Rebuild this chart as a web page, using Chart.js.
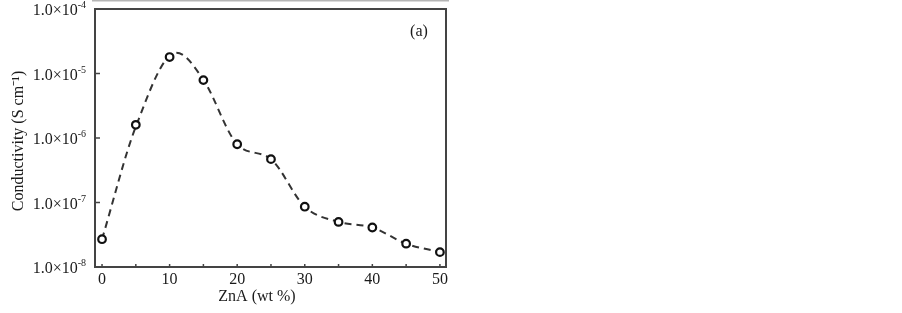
<!DOCTYPE html>
<html lang="en">
<head>
<meta charset="UTF-8">
<title>Conductivity vs ZnA</title>
<script src="https://cdn.jsdelivr.net/npm/chart.js"></script>
<style>
  html, body { margin: 0; padding: 0; background: #fff; }
  #wrap { width: 902px; height: 313px; position: relative; }
</style>
</head>
<body>
<div id="wrap"><canvas id="myChart"></canvas></div>
<script>
// measured points
const zna = [0, 5, 10, 15, 20, 25, 30, 35, 40, 45, 50];
const conductivity = [2.7e-8, 1.6e-6, 1.8e-5, 7.9e-6, 8.0e-7, 4.7e-7, 8.6e-8, 5.0e-8, 4.1e-8, 2.3e-8, 1.7e-8];
// dashed guide curve
const fitX = [0, 5, 11, 15, 20, 25, 30, 35, 40, 45, 50];
const fitY = [2.7e-8, 1.5e-6, 2.1e-5, 8.0e-6, 8.0e-7, 4.7e-7, 8.6e-8, 5.0e-8, 4.1e-8, 2.3e-8, 1.7e-8];
// axis ticks
const yTickExp = [-8, -7, -6, -5, -4];
const xTickLabels = [0, 10, 20, 30, 40, 50];
const xMinorTicks = [0, 5, 10, 15, 20, 25, 30, 35, 40, 45, 50];

const serif = '"Liberation Serif", "Times New Roman", serif';

const framePlugin = {
    id: 'frame',
    afterDraw(chart) {
        const ctx = chart.ctx;
        const a = chart.chartArea;
        const xs = chart.scales.x, ys = chart.scales.y;
        ctx.save();
        // faint line above the plot
        ctx.fillStyle = '#b5b5b5';
        ctx.fillRect(92, 0, 357, 1.5);
        // frame
        ctx.strokeStyle = '#444';
        ctx.lineWidth = 2;
        ctx.strokeRect(a.left, a.top, a.right - a.left, a.bottom - a.top);
        // inward ticks
        ctx.lineWidth = 1.5;
        ctx.beginPath();
        yTickExp.forEach(e => {
            const py = ys.getPixelForValue(Math.pow(10, e));
            ctx.moveTo(a.left, py);
            ctx.lineTo(a.left + 5, py);
        });
        xMinorTicks.forEach(v => {
            const px = xs.getPixelForValue(v);
            ctx.moveTo(px, a.bottom);
            ctx.lineTo(px, a.bottom - 3);
        });
        ctx.stroke();
        // y tick labels with superscript exponent
        ctx.fillStyle = '#1a1a1a';
        ctx.textBaseline = 'alphabetic';
        yTickExp.forEach(e => {
            const py = ys.getPixelForValue(Math.pow(10, e));
            ctx.font = '10px ' + serif;
            const sup = String(e);
            const supW = ctx.measureText(sup).width;
            ctx.textAlign = 'right';
            ctx.fillText(sup, 86, py - 1);
            ctx.font = '16px ' + serif;
            ctx.fillText('1.0\u00d710', 86 - supW, py + 6);
        });
        // axis titles
        ctx.textAlign = 'center';
        ctx.textBaseline = 'middle';
        ctx.font = '16px ' + serif;
        ctx.fillText('ZnA (wt %)', 257, 297);
        ctx.save();
        ctx.translate(19, (a.top + a.bottom) / 2 + 3);
        ctx.rotate(-Math.PI / 2);
        ctx.font = '16px ' + serif;
        ctx.fillText('Conductivity (S cm\u207b\u00b9)', 0, 0);
        ctx.restore();
        // panel tag
        ctx.font = '16px ' + serif;
        ctx.fillText('(a)', 419, 32);
        ctx.restore();
    }
};

const ctx = document.getElementById('myChart').getContext('2d');
const myChart = new Chart(ctx, {
    type: 'scatter',
    data: {
        datasets: [{
            label: 'fit',
            data: fitX.map((x, i) => ({ x: x, y: fitY[i] })),
            showLine: true,
            borderColor: '#333',
            borderWidth: 2,
            borderDash: [7, 5],
            pointRadius: 0,
            cubicInterpolationMode: 'monotone',
            order: 2
        }, {
            label: 'Conductivity',
            data: zna.map((x, i) => ({ x: x, y: conductivity[i] })),
            showLine: false,
            pointRadius: 3.8,
            pointBorderWidth: 2.2,
            pointBorderColor: '#111',
            pointBackgroundColor: '#fff',
            order: 1
        }]
    },
    options: {
        responsive: true,
        maintainAspectRatio: false,
        animation: false,
        layout: { padding: { left: 0, top: 9, right: 456, bottom: 0 } },
        plugins: { legend: { display: false }, tooltip: { enabled: false } },
        scales: {
            x: {
                type: 'linear',
                min: -1.04,
                max: 50.9,
                afterBuildTicks: s => { s.ticks = xTickLabels.map(v => ({ value: v })); },
                afterFit: s => { s.height = 46; },
                grid: { display: false, drawTicks: false },
                border: { display: false },
                ticks: { color: '#1a1a1a', padding: 3, font: { family: serif, size: 16 } }
            },
            y: {
                type: 'logarithmic',
                min: 1e-8,
                max: 1e-4,
                afterFit: s => { s.width = 95; },
                grid: { display: false, drawTicks: false },
                border: { display: false },
                ticks: { display: false }
            }
        }
    },
    plugins: [framePlugin]
});
</script>
</body>
</html>
